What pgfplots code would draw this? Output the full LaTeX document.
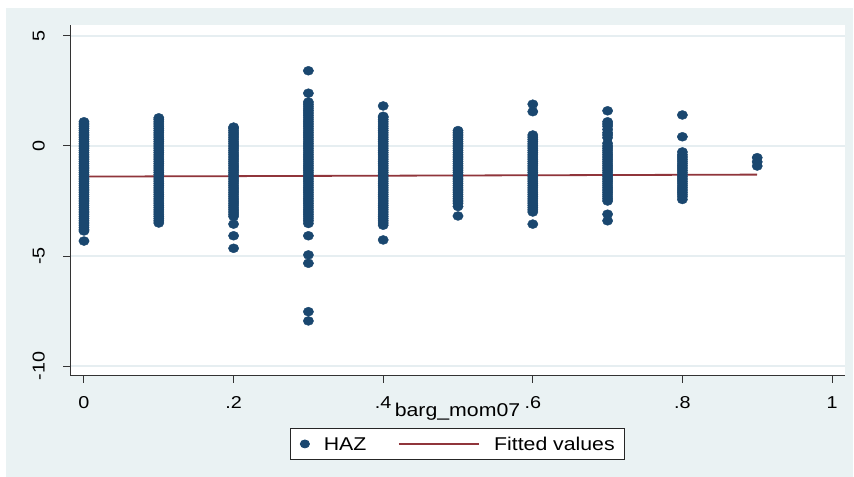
\documentclass[border=0pt]{standalone}
\usepackage{fontspec}
\setmainfont{Liberation Sans}[FakeStretch=1.15]
\usepackage{pgfplots}
\pgfplotsset{compat=1.18}

\definecolor{stbg}{HTML}{EAF2F3}
\definecolor{stgrid}{HTML}{E6EEF1}
\definecolor{stnavy}{HTML}{1A476F}
\definecolor{stmaroon}{HTML}{90353B}

\pgfplotsset{
    hazimage/.style={legend image code/.code={%
        \draw[##1, mark size=4bp] plot coordinates {(0bp,0bp)};}},
    fitimage/.style={legend image code/.code={%
        \draw[##1] (0bp,0bp) -- (80bp,0bp);}},
}

\begin{document}
\begin{tikzpicture}[x=1bp,y=1bp]
\useasboundingbox (0,0) rectangle (854,477);
\fill[white] (0,0) rectangle (854,477);
\fill[stbg] (6,0) rectangle (853,469);
\begin{axis}[
    at={(70bp,101.3bp)}, anchor=south west,
    scale only axis, width=775bp, height=350.7bp,
    xmin=-0.0187, xmax=1.0174,
    ymin=-10.44, ymax=5.5,
    axis background/.style={fill=white},
    axis x line*=bottom, axis y line*=left,
    axis line style={-, draw=black!80, line width=1bp},
    xtick={0,0.2,0.4,0.6,0.8,1},
    xticklabels={0,.2,.4,.6,.8,1},
    ytick={-10,-5,0,5},
    yticklabels={-10,-5,0,5},
    minor tick num=0,
    tick align=outside,
    major tick length=7bp,
    tick style={draw=black!80, line width=1bp},
    ymajorgrids,
    major grid style={stgrid, line width=2bp},
    tick label style={font=\fontsize{17.2bp}{20bp}\selectfont},
    xticklabel style={anchor=north, inner sep=0pt, yshift=-13.6bp},
    yticklabel style={xshift=-18bp, rotate=90, anchor=south, inner sep=0pt},
    xlabel={barg\_mom07},
    xlabel style={at={(axis description cs:0.5,0)}, anchor=north,
        inner sep=0pt, yshift=-27.3bp,
        font=\fontsize{18.5bp}{21bp}\selectfont},
    legend columns=2,
    legend style={at={(axis description cs:0.5,0)}, anchor=north,
        yshift=-52.6bp, draw=black!85, line width=0.8bp, fill=white,
        inner xsep=10bp, inner ysep=8.5bp,
        font=\fontsize{18.5bp}{21bp}\selectfont,
        nodes={inner sep=0pt, text height=13.5bp, text depth=0pt},
        /tikz/every odd column/.append style={column sep=14.3bp},
        /tikz/every even column/.append style={column sep=31.7bp}},
]
% HAZ scatter, one column of points per value of barg_mom07
\addplot[only marks, mark=*, mark size=4.5bp,
    mark options={draw=stnavy, fill=stnavy, xscale=1.15}, hazimage]
coordinates {
(0,1.1)(0,1.0)(0,0.9)(0,0.8)(0,0.7)(0,0.6)(0,0.5)(0,0.4)(0,0.3)(0,0.2)
(0,0.1)(0,0.0)(0,-0.1)(0,-0.2)(0,-0.3)(0,-0.4)(0,-0.5)(0,-0.6)(0,-0.7)(0,-0.8)
(0,-0.9)(0,-1.0)(0,-1.1)(0,-1.2)(0,-1.3)(0,-1.4)(0,-1.5)(0,-1.6)(0,-1.7)(0,-1.8)
(0,-1.9)(0,-2.0)(0,-2.1)(0,-2.2)(0,-2.3)(0,-2.4)(0,-2.5)(0,-2.6)(0,-2.7)(0,-2.8)
(0,-2.9)(0,-3.0)(0,-3.1)(0,-3.2)(0,-3.3)(0,-3.4)(0,-3.5)(0,-3.6)(0,-3.7)(0,-3.8)
(0,-3.86)(0,-4.32)
(0.1,1.28)(0.1,1.2)(0.1,1.1)(0.1,1.0)(0.1,0.9)(0.1,0.8)(0.1,0.7)(0.1,0.6)(0.1,0.5)(0.1,0.4)
(0.1,0.3)(0.1,0.2)(0.1,0.1)(0.1,0.0)(0.1,-0.1)(0.1,-0.2)(0.1,-0.3)(0.1,-0.4)(0.1,-0.5)(0.1,-0.6)
(0.1,-0.7)(0.1,-0.8)(0.1,-0.9)(0.1,-1.0)(0.1,-1.1)(0.1,-1.2)(0.1,-1.3)(0.1,-1.4)(0.1,-1.5)(0.1,-1.6)
(0.1,-1.7)(0.1,-1.8)(0.1,-1.9)(0.1,-2.0)(0.1,-2.1)(0.1,-2.2)(0.1,-2.3)(0.1,-2.4)(0.1,-2.5)(0.1,-2.6)
(0.1,-2.7)(0.1,-2.8)(0.1,-2.9)(0.1,-3.0)(0.1,-3.1)(0.1,-3.2)(0.1,-3.3)(0.1,-3.4)(0.1,-3.5)
(0.2,0.86)(0.2,0.8)(0.2,0.7)(0.2,0.6)(0.2,0.5)(0.2,0.4)(0.2,0.3)(0.2,0.2)(0.2,0.1)(0.2,0.0)
(0.2,-0.1)(0.2,-0.2)(0.2,-0.3)(0.2,-0.4)(0.2,-0.5)(0.2,-0.6)(0.2,-0.7)(0.2,-0.8)(0.2,-0.9)(0.2,-1.0)
(0.2,-1.1)(0.2,-1.2)(0.2,-1.3)(0.2,-1.4)(0.2,-1.5)(0.2,-1.6)(0.2,-1.7)(0.2,-1.8)(0.2,-1.9)(0.2,-2.0)
(0.2,-2.1)(0.2,-2.2)(0.2,-2.3)(0.2,-2.4)(0.2,-2.5)(0.2,-2.6)(0.2,-2.7)(0.2,-2.8)(0.2,-2.9)(0.2,-3.0)
(0.2,-3.1)(0.2,-3.2)(0.2,-3.55)(0.2,-4.08)(0.2,-4.65)
(0.3,3.42)(0.3,2.4)(0.3,2.0)(0.3,1.9)(0.3,1.8)(0.3,1.7)(0.3,1.6)(0.3,1.5)(0.3,1.4)(0.3,1.3)
(0.3,1.2)(0.3,1.1)(0.3,1.0)(0.3,0.9)(0.3,0.8)(0.3,0.7)(0.3,0.6)(0.3,0.5)(0.3,0.4)(0.3,0.3)
(0.3,0.2)(0.3,0.1)(0.3,0.0)(0.3,-0.1)(0.3,-0.2)(0.3,-0.3)(0.3,-0.4)(0.3,-0.5)(0.3,-0.6)(0.3,-0.7)
(0.3,-0.8)(0.3,-0.9)(0.3,-1.0)(0.3,-1.1)(0.3,-1.2)(0.3,-1.3)(0.3,-1.4)(0.3,-1.5)(0.3,-1.6)(0.3,-1.7)
(0.3,-1.8)(0.3,-1.9)(0.3,-2.0)(0.3,-2.1)(0.3,-2.2)(0.3,-2.3)(0.3,-2.4)(0.3,-2.5)(0.3,-2.6)(0.3,-2.7)
(0.3,-2.8)(0.3,-2.9)(0.3,-3.0)(0.3,-3.1)(0.3,-3.2)(0.3,-3.3)(0.3,-3.4)(0.3,-3.52)
(0.3,-4.08)(0.3,-4.95)(0.3,-5.33)(0.3,-7.53)(0.3,-7.95)
(0.4,1.82)(0.4,1.35)(0.4,1.3)(0.4,1.2)(0.4,1.1)(0.4,1.0)(0.4,0.9)(0.4,0.8)(0.4,0.7)(0.4,0.6)
(0.4,0.5)(0.4,0.4)(0.4,0.3)(0.4,0.2)(0.4,0.1)(0.4,0.0)(0.4,-0.1)(0.4,-0.2)(0.4,-0.3)(0.4,-0.4)
(0.4,-0.5)(0.4,-0.6)(0.4,-0.7)(0.4,-0.8)(0.4,-0.9)(0.4,-1.0)(0.4,-1.1)(0.4,-1.2)(0.4,-1.3)(0.4,-1.4)
(0.4,-1.5)(0.4,-1.6)(0.4,-1.7)(0.4,-1.8)(0.4,-1.9)(0.4,-2.0)(0.4,-2.1)(0.4,-2.2)(0.4,-2.3)(0.4,-2.4)
(0.4,-2.5)(0.4,-2.6)(0.4,-2.7)(0.4,-2.8)(0.4,-2.9)(0.4,-3.0)(0.4,-3.1)(0.4,-3.2)(0.4,-3.3)(0.4,-3.4)
(0.4,-3.5)(0.4,-3.6)(0.4,-4.27)
(0.5,0.7)(0.5,0.6)(0.5,0.5)(0.5,0.4)(0.5,0.3)(0.5,0.2)(0.5,0.1)(0.5,0.0)(0.5,-0.1)(0.5,-0.2)
(0.5,-0.3)(0.5,-0.4)(0.5,-0.5)(0.5,-0.6)(0.5,-0.7)(0.5,-0.8)(0.5,-0.9)(0.5,-1.0)(0.5,-1.1)(0.5,-1.2)
(0.5,-1.3)(0.5,-1.4)(0.5,-1.5)(0.5,-1.6)(0.5,-1.7)(0.5,-1.8)(0.5,-1.9)(0.5,-2.0)(0.5,-2.1)(0.5,-2.2)
(0.5,-2.3)(0.5,-2.4)(0.5,-2.5)(0.5,-2.6)(0.5,-2.75)(0.5,-3.18)
(0.6,1.9)(0.6,1.56)(0.6,0.5)(0.6,0.4)(0.6,0.3)(0.6,0.2)(0.6,0.1)(0.6,0.0)(0.6,-0.1)(0.6,-0.2)
(0.6,-0.3)(0.6,-0.4)(0.6,-0.5)(0.6,-0.6)(0.6,-0.7)(0.6,-0.8)(0.6,-0.9)(0.6,-1.0)(0.6,-1.1)(0.6,-1.2)
(0.6,-1.3)(0.6,-1.4)(0.6,-1.5)(0.6,-1.6)(0.6,-1.7)(0.6,-1.8)(0.6,-1.9)(0.6,-2.0)(0.6,-2.1)(0.6,-2.2)
(0.6,-2.3)(0.6,-2.4)(0.6,-2.5)(0.6,-2.6)(0.6,-2.7)(0.6,-2.8)(0.6,-2.9)(0.6,-3.0)(0.6,-3.55)
(0.7,1.6)(0.7,1.1)(0.7,1.0)(0.7,0.9)(0.7,0.75)(0.7,0.6)(0.7,0.5)(0.7,0.38)(0.7,0.12)(0.7,0.0)
(0.7,-0.1)(0.7,-0.2)(0.7,-0.3)(0.7,-0.4)(0.7,-0.5)(0.7,-0.6)(0.7,-0.7)(0.7,-0.8)(0.7,-0.9)(0.7,-1.0)
(0.7,-1.1)(0.7,-1.2)(0.7,-1.3)(0.7,-1.4)(0.7,-1.5)(0.7,-1.6)(0.7,-1.7)(0.7,-1.8)(0.7,-1.9)(0.7,-2.0)
(0.7,-2.1)(0.7,-2.2)(0.7,-2.3)(0.7,-2.4)(0.7,-2.5)(0.7,-3.1)(0.7,-3.4)
(0.8,1.41)(0.8,0.42)(0.8,-0.27)(0.8,-0.4)(0.8,-0.5)(0.8,-0.6)(0.8,-0.7)(0.8,-0.8)(0.8,-0.9)(0.8,-1.0)
(0.8,-1.1)(0.8,-1.2)(0.8,-1.3)(0.8,-1.4)(0.8,-1.5)(0.8,-1.6)(0.8,-1.7)(0.8,-1.8)(0.8,-1.9)(0.8,-2.0)
(0.8,-2.1)(0.8,-2.2)(0.8,-2.3)(0.8,-2.43)
(0.9,-0.53)(0.9,-0.72)(0.9,-0.91)
};
\addlegendentry{HAZ}
% linear fit
\addplot[stmaroon, line width=1.8bp, no marks, fitimage]
coordinates {(0,-1.39)(0.9,-1.30)};
\addlegendentry{Fitted values}
\end{axis}
\end{tikzpicture}
\end{document}
